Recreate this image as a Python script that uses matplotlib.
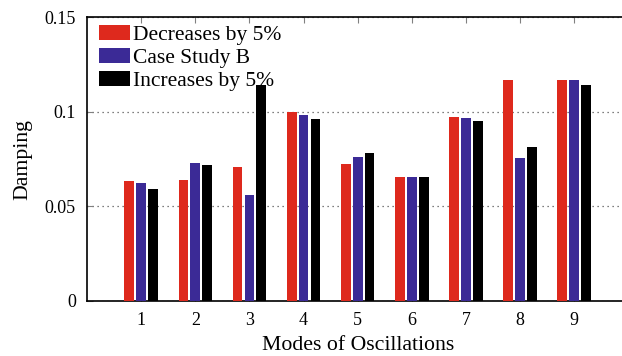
import matplotlib
matplotlib.use("Agg")
import matplotlib.pyplot as plt
import numpy as np

plt.rcParams["font.family"] = ["Liberation Serif", "DejaVu Serif"]

modes = [1, 2, 3, 4, 5, 6, 7, 8, 9]
decreases = [0.0636, 0.0641, 0.0710, 0.1001, 0.0726, 0.0657, 0.0975, 0.1171, 0.1171]
case_b = [0.0625, 0.0731, 0.0562, 0.0985, 0.0763, 0.0657, 0.0969, 0.0758, 0.1171]
increases = [0.0594, 0.0720, 0.1145, 0.0964, 0.0784, 0.0657, 0.0953, 0.0816, 0.1145]
labels = ["Decreases by 5%", "Case Study B", "Increases by 5%"]
colors = ["#de291d", "#3b2a96", "#000000"]

fig = plt.figure(figsize=(6.22, 3.56), dpi=100)
ax = fig.add_axes([0.140, 0.1545, 0.870, 0.7965])

x = np.array(modes)
w = 0.18
step = 0.22
for i, (vals, lab, c) in enumerate(zip([decreases, case_b, increases], labels, colors)):
    ax.bar(x + (i - 1) * step, vals, width=w, color=c, label=lab, zorder=3)

ax.set_xlim(0, 10)
ax.set_ylim(0, 0.15)
ax.set_xticks(modes)
ax.set_yticks([0, 0.05, 0.1, 0.15])
ax.set_yticklabels(["0", "0.05", "0.1", "0.15"])
ax.tick_params(direction="in", top=True, right=True, labelsize=13,
               length=4, width=0.8, color="#808080", pad=8)
ax.yaxis.grid(True, linestyle=(0, (1, 3)), color="#555555", linewidth=0.9, zorder=0)
for s in ax.spines.values():
    s.set_linewidth(1.2)

ax.set_xlabel("Modes of Oscillations", fontsize=15.7, labelpad=5)
ax.set_ylabel("Damping", fontsize=15.7, labelpad=9)

ax.legend(loc="upper left", bbox_to_anchor=(0.022, 0.972), frameon=False,
          fontsize=15.5, handlelength=1.44, handleheight=0.7,
          handletextpad=0.14, labelspacing=0.12,
          borderaxespad=0, borderpad=0)

fig.savefig("out.png", dpi=100)
